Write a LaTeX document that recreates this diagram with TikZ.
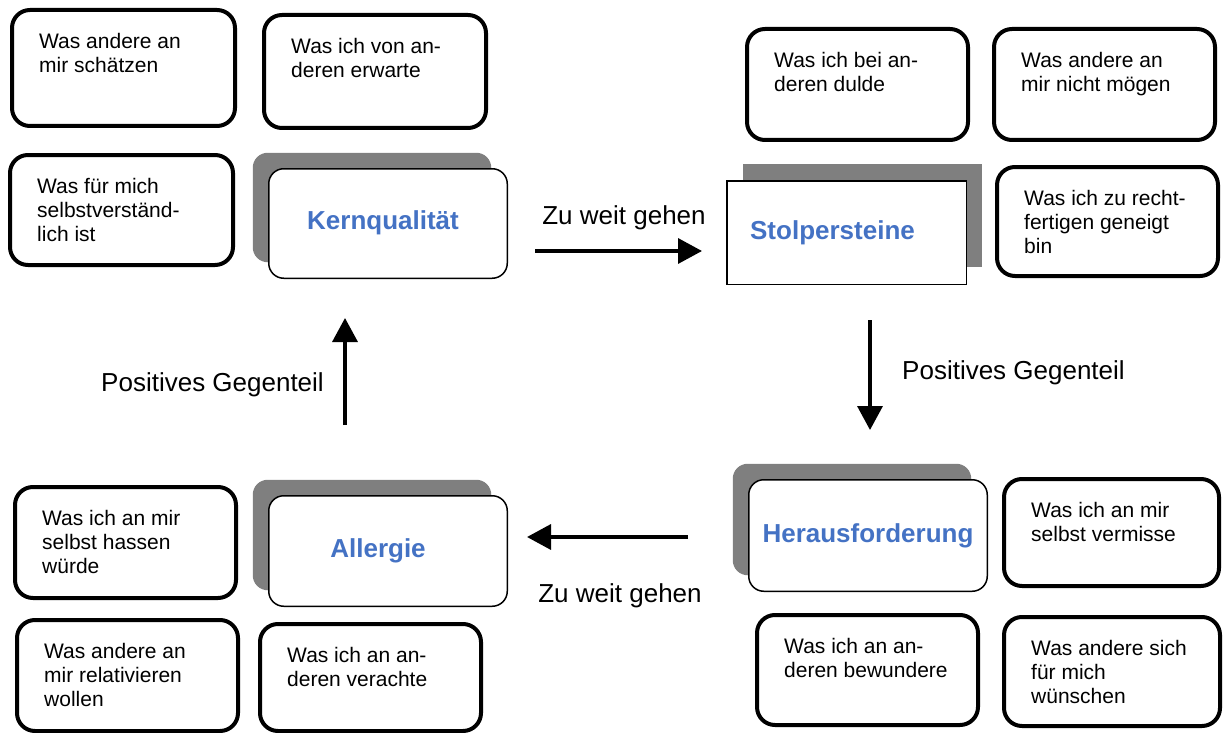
\documentclass[tikz,border=0pt]{standalone}
\usepackage{fontspec}
\setmainfont{Liberation Sans}
\usetikzlibrary{arrows.meta,positioning,shadows}
\definecolor{KB}{HTML}{4472C4}
\definecolor{SG}{HTML}{7F7F7F}
\tikzset{
  cell/.style={draw, line width=4pt, rounded corners=18pt, anchor=north west, inner sep=0pt},
  celltext/.style={anchor=north west, inner sep=0pt, align=left, font=\fontsize{21}{24}\selectfont},
  core/.style={draw, fill=white, line width=1.5pt, rounded corners=15pt, anchor=north west,
    font=\fontsize{26}{30}\selectfont\bfseries, text=KB},
  coreL/.style={core, general shadow={fill=SG, shadow xshift=-16pt, shadow yshift=16pt}},
  coreR/.style={core, sharp corners, general shadow={fill=SG, shadow xshift=16pt, shadow yshift=17pt}},
  flow/.style={line width=3.5pt, -{Triangle[length=24pt,width=25pt]}},
  flowlabel/.style={font=\fontsize{26}{30}\selectfont, inner sep=0pt}
}
\begin{document}
\begin{tikzpicture}[x=1pt,y=-1pt]
        \useasboundingbox (0,0) rectangle (1223,733);
        \foreach \nm/\x/\y/\w/\h/\txt in {
            a1/10/8/227/120/{Was andere an\\mir schätzen},
            a2/262/13/226/117/{Was ich von an-\\deren erwarte},
            a3/8/153/227/114/{Was für mich\\selbstverständ-\\lich ist},
            b1/745/27/225/115/{Was ich bei an-\\deren dulde},
            b2/992/27/225/115/{Was andere an\\mir nicht mögen},
            b3/995/165/225/113/{Was ich zu recht-\\fertigen geneigt\\bin},
            c1/1002/477/219/111/{Was ich an mir\\selbst vermisse},
            c2/755/613/225/114/{Was ich an an-\\deren bewundere},
            c3/1002/615/220/113/{Was andere sich\\für mich\\wünschen},
            d1/13/485/225/115/{Was ich an mir\\selbst hassen\\würde},
            d2/15/618/225/115/{Was andere an\\mir relativieren\\wollen},
            d3/258/622/225/111/{Was ich an an-\\deren verachte}}{
          \node[cell, minimum width={(\w-4)*1pt}, minimum height={(\h-4)*1pt}]
            (\nm) at (\x,\y) {};
          \node[celltext] (\nm-t) at ([shift={(29pt,-25pt)}]\nm.north west) {\txt};
        }
        \node[coreL, minimum width=238.5pt, minimum height=109.5pt] (kern) at (268,168)
          {\raisebox{6pt}{Kernqualität}\hspace*{10pt}};
        \node[coreR, minimum width=239.5pt, minimum height=103.5pt] (stolper) at (726,180)
          {\raisebox{3pt}{Stolpersteine}\hspace*{28pt}};
        \node[coreL, minimum width=238.5pt, minimum height=111.5pt] (heraus) at (748,479) {Herausforderung};
        \node[coreL, minimum width=238.5pt, minimum height=110.5pt] (allergie) at (268,495)
          {\raisebox{3pt}{Allergie}\hspace*{20pt}};
        \coordinate (zw1s) at (535,251);
        \coordinate (zw1e) at (702,251);
        \coordinate (pg1s) at (870,320);
        \coordinate (pg1e) at (870,430);
        \coordinate (zw2s) at (688,537);
        \coordinate (zw2e) at (527,537);
        \coordinate (pg2s) at (345,425);
        \coordinate (pg2e) at (345,318);
        \draw[flow] (zw1s) -- (zw1e);
        \draw[flow] (pg1s) -- (pg1e);
        \draw[flow] (zw2s) -- (zw2e);
        \draw[flow] (pg2s) -- (pg2e);
        \node[flowlabel] (zw1l) at (624,218) {Zu weit gehen};
        \node[flowlabel, anchor=west] (pg1l) at (902,373) {Positives Gegenteil};
        \node[flowlabel] (zw2l) at (620,596) {Zu weit gehen};
        \node[flowlabel, anchor=east] (pg2l) at (324,385) {Positives Gegenteil};
      \end{tikzpicture}
\end{document}
